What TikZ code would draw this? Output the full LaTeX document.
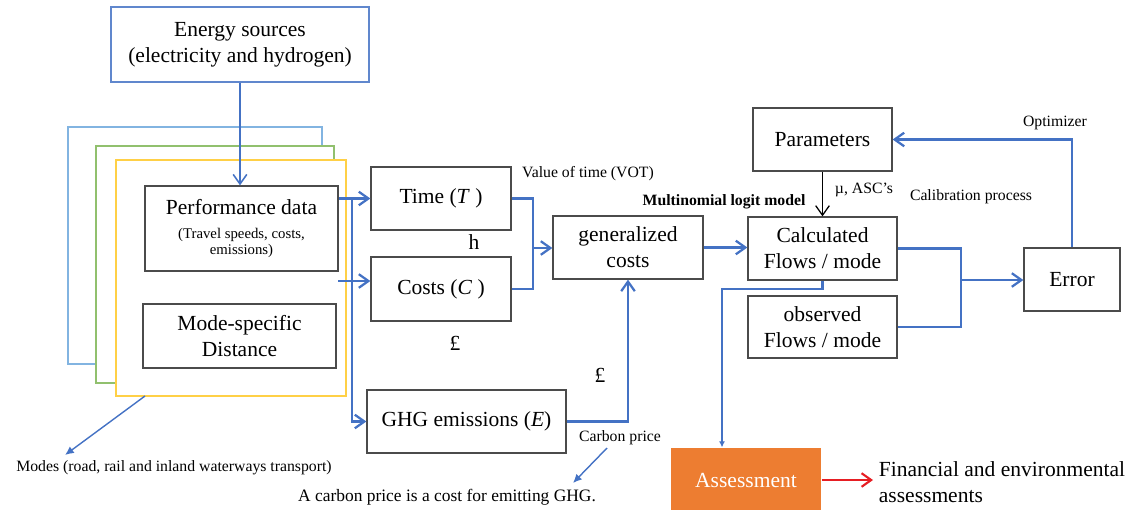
\documentclass[tikz,border=0pt]{standalone}
\usepackage{fontspec}
\setmainfont{Liberation Serif}
\usetikzlibrary{arrows.meta}
\definecolor{lineblue}{RGB}{68,114,196}
\definecolor{frameblue}{RGB}{130,180,225}
\definecolor{framegreen}{RGB}{145,192,110}
\definecolor{frameyellow}{RGB}{255,208,70}
\definecolor{boxgray}{RGB}{75,75,75}
\definecolor{assessorange}{RGB}{237,125,49}
\definecolor{arrowred}{RGB}{230,30,35}
\newcommand\boxfont{\fontsize{15.3}{18.5}\selectfont}
\newcommand\notefont{\fontsize{11.2}{13}\selectfont}
\newcommand\subfont{\fontsize{10.5}{12}\selectfont}
\newcommand\captfont{\fontsize{12.4}{14}\selectfont}
\begin{document}
\begin{tikzpicture}[x=0.025cm, y=-0.025cm, >={Straight Barb[length=2.4mm,width=3.4mm]},
  box/.style={draw=boxgray, line width=0.9pt, align=center, font=\boxfont, inner sep=2pt},
  flow/.style={draw=lineblue, line width=1.6pt},
  note/.style={font=\notefont, inner sep=0pt}]
\useasboundingbox (0,0) rectangle (1130,509);
\node[box, draw=lineblue!85, line width=0.8pt, minimum width=6.45cm, minimum height=1.875cm] (energy) at (240,44.5) {Energy sources\\(electricity and hydrogen)};
\filldraw[fill=white, draw=frameblue, line width=1pt] (68,127) rectangle (322,364);
\filldraw[fill=white, draw=framegreen, line width=1pt] (96,146) rectangle (334,383);
\filldraw[fill=white, draw=frameyellow, line width=1pt] (116,160) rectangle (346,396);
\node[box, minimum width=4.825cm, minimum height=2.125cm] (perf) at (241.5,228.5) {Performance data\\[-2pt]{\subfont (Travel speeds, costs,}\\[-7pt]{\subfont emissions)}};
\node[box, minimum width=4.825cm, minimum height=1.6cm] (dist) at (239.5,336) {Mode-specific\\Distance};
\node[box, minimum width=3.5cm, minimum height=1.575cm] (time) at (441,198.5) {Time (\textit{T} )};
\node[box, minimum width=3.5cm, minimum height=1.6cm] (costs) at (441,289) {Costs (\textit{C} )};
\node[box, minimum width=4.975cm, minimum height=1.575cm] (ghg) at (466.5,421.5) {GHG emissions (\textit{E})};
\node[box, minimum width=3.75cm, minimum height=1.575cm] (gen) at (628,247.5) {generalized\\costs};
\node[box, minimum width=3.475cm, minimum height=1.575cm] (param) at (822.5,139.5) {Parameters};
\node[box, minimum width=3.725cm, minimum height=1.575cm] (calc) at (822.5,248.5) {Calculated\\Flows / mode};
\node[box, minimum width=3.725cm, minimum height=1.55cm] (obs) at (822.5,327) {observed\\Flows / mode};
\node[box, minimum width=2.4cm, minimum height=1.575cm] (error) at (1072,279.5) {Error};
\node[box, draw=none, fill=assessorange, text=white, minimum width=3.75cm, minimum height=1.6cm] (assess) at (746,480) {Assessment};
\node[font=\boxfont, anchor=west, align=left, inner sep=4pt] (fin) at (873,482) {Financial and environmental\\assessments};

\node[note] (vot) at (588,174) {Value of time (VOT)};
\node[font=\boxfont, inner sep=0pt] (hour) at (474,242) {h};
\node[font=\boxfont, inner sep=0pt] (pound1) at (455,343) {£};
\node[font=\boxfont, inner sep=0pt] (pound2) at (600,375) {£};
\node[note, font=\notefont\bfseries] (mnl) at (724,202) {Multinomial logit model};
\node[note] (mu) at (864,190) {µ, ASC's};
\node[note] (calib) at (971,197) {Calibration process};
\node[note] (optim) at (1055,123) {Optimizer};
\node[note] (cprice) at (620,438) {Carbon price};
\node[font=\captfont, inner sep=0pt] (cdef) at (447,497) {A carbon price is a cost for emitting GHG.};
\node[note] (modes) at (174,468) {Modes (road, rail and inland waterways transport)};

\coordinate (split) at (352,198.5);
\coordinate (cin) at (338,281);
\coordinate (join) at (533,248);
\coordinate (merge) at (961,280);
\coordinate (aup) at (722,289);
\coordinate (mfrom) at (145,396);
\coordinate (mto) at (65,455);
\coordinate (cfrom) at (607,448);
\coordinate (cto) at (573,483);

\draw[flow, line width=1.1pt, ->] (energy.south) -- (energy.south |- perf.north);
\draw[flow, ->] (perf.east |- split) -- (time.west);
\draw[flow, ->] (split) |- (ghg.west);
\draw[flow, ->] (cin) -- (cin -| costs.west);
\draw[flow] (time.east) -| (join) |- (costs.east);
\draw[flow, ->] (join) -- (join -| gen.west);
\draw[flow, ->] (ghg.east) -| (gen.south);
\draw[flow, ->] (gen.east) -- (gen.east -| calc.west);
\draw[line width=0.9pt, ->] (param.south) -- (calc.north);
\draw[flow] (calc.east) -| (merge) |- (obs.east);
\draw[flow, ->] (merge) -- (merge -| error.west);
\draw[flow, ->] (error.north) |- (param.east);
\draw[flow, -{Latex[length=1.5mm,width=1.5mm]}] (calc.south) |- (aup) -- (aup |- assess.north);
\draw[arrowred, line width=1.5pt, ->] (assess.east) -- (assess.east -| fin.west);
\draw[flow, line width=1pt, -{Latex[length=2.2mm,width=2mm]}] (mfrom) -- (mto);
\draw[flow, line width=1pt, -{Latex[length=2.2mm,width=2mm]}] (cfrom) -- (cto);
\end{tikzpicture}
\end{document}
